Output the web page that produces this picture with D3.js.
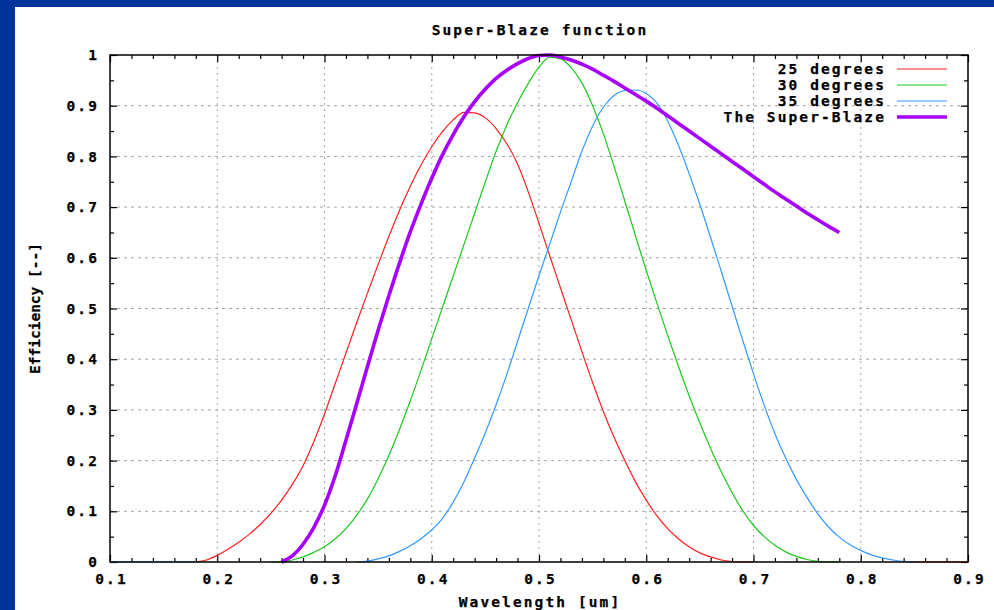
<!DOCTYPE html>
<html>
<head>
<meta charset="utf-8">
<script src="https://cdn.jsdelivr.net/npm/d3@7"></script>
<style>
  html, body { margin: 0; padding: 0; background: #003399; }
  svg { display: block; }
</style>
</head>
<body>
<div id="chart"></div>
<script>
// =========================================================
//  Super-Blaze function — three blaze curves + envelope
// =========================================================

// shared wavelength grid [um]
const wavelength = [
  0.10, 0.11, 0.12, 0.13, 0.14, 0.15, 0.16, 0.17, 0.18, 0.19,
  0.20, 0.21, 0.22, 0.23, 0.24, 0.25, 0.26, 0.27, 0.28, 0.29,
  0.30, 0.31, 0.32, 0.33, 0.34, 0.35, 0.36, 0.37, 0.38, 0.39,
  0.40, 0.41, 0.42, 0.43, 0.44, 0.45, 0.46, 0.47, 0.48, 0.49,
  0.50, 0.51, 0.52, 0.53, 0.54, 0.55, 0.56, 0.57, 0.58, 0.59,
  0.60, 0.61, 0.62, 0.63, 0.64, 0.65, 0.66, 0.67, 0.68, 0.69,
  0.70, 0.71, 0.72, 0.73, 0.74, 0.75, 0.76, 0.77, 0.78, 0.79,
  0.80, 0.81, 0.82, 0.83, 0.84, 0.85, 0.86, 0.87, 0.88, 0.89,
  0.90
];

// efficiency per series, null = not drawn
const deg25 = [
  null, null, null, null, null, null, null, null, 0, 0.004,
  0.013, 0.025, 0.039, 0.055, 0.074, 0.096, 0.122, 0.153, 0.190, 0.237,
  0.292, 0.352, 0.412, 0.472, 0.530, 0.587, 0.642, 0.694, 0.741, 0.783,
  0.819, 0.849, 0.872, 0.887, 0.886, 0.876, 0.855, 0.825, 0.785, 0.730,
  0.668, 0.604, 0.541, 0.478, 0.415, 0.354, 0.297, 0.246, 0.200, 0.158,
  0.122, 0.091, 0.066, 0.046, 0.030, 0.018, 0.010, 0.004, 0.001, 0,
  0, null, null, null, null, null, null, null, null, null,
  null, null, null, null, null, 0, 0, 0, 0, 0,
  0
];
const deg30 = [
  null, null, null, null, null, null, null, null, null, null,
  null, null, null, null, null, 0, 0, 0.004, 0.010, 0.019,
  0.030, 0.046, 0.066, 0.092, 0.124, 0.164, 0.210, 0.262, 0.318, 0.378,
  0.440, 0.502, 0.564, 0.626, 0.688, 0.750, 0.810, 0.862, 0.906, 0.944,
  0.976, 0.996, 0.993, 0.975, 0.945, 0.900, 0.845, 0.780, 0.712, 0.643,
  0.575, 0.510, 0.447, 0.386, 0.328, 0.274, 0.224, 0.178, 0.137, 0.101,
  0.072, 0.050, 0.033, 0.020, 0.011, 0.005, 0.0015, 0, 0, null,
  null, null, null, null, null, null, null, null, null, null,
  null
];
const deg35 = [
  0, 0, 0, 0, 0, 0, 0, 0, 0, null,
  null, null, null, null, null, null, null, null, null, null,
  null, null, null, 0, 0.002, 0.006, 0.012, 0.021, 0.032, 0.046,
  0.063, 0.086, 0.118, 0.158, 0.205, 0.255, 0.310, 0.370, 0.435, 0.500,
  0.565, 0.627, 0.690, 0.750, 0.810, 0.860, 0.897, 0.920, 0.930, 0.931,
  0.924, 0.905, 0.870, 0.822, 0.766, 0.705, 0.640, 0.573, 0.505, 0.437,
  0.371, 0.309, 0.253, 0.205, 0.163, 0.127, 0.095, 0.069, 0.049, 0.034,
  0.023, 0.014, 0.008, 0.004, 0.001, 0, null, null, null, null,
  null
];
const superBlaze = [
  null, null, null, null, null, null, null, null, null, null,
  null, null, null, null, null, null, 0, 0.012, 0.035, 0.068,
  0.112, 0.170, 0.240, 0.312, 0.385, 0.457, 0.525, 0.590, 0.651, 0.706,
  0.757, 0.803, 0.843, 0.878, 0.908, 0.933, 0.954, 0.970, 0.983, 0.993,
  0.999, 1.000, 0.996, 0.990, 0.982, 0.972, 0.960, 0.948, 0.935, 0.922,
  0.909, 0.895, 0.880, 0.865, 0.850, 0.835, 0.820, 0.805, 0.790, 0.775,
  0.760, 0.745, 0.730, 0.716, 0.702, 0.688, 0.675, 0.662, 0.650, null,
  null, null, null, null, null, null, null, null, null, null,
  null
];

const seriesNames = ['25 degrees', '30 degrees', '35 degrees', 'The Super-Blaze'];
const seriesValues = [deg25, deg30, deg35, superBlaze];
const seriesColors = ['#ff2020', '#1ec81e', '#3399ff', '#a800ff'];
const seriesWidths = [1.2, 1.2, 1.2, 3.6];

const xTicks = [0.1, 0.2, 0.3, 0.4, 0.5, 0.6, 0.7, 0.8, 0.9];
const xMinor = [0.12, 0.14, 0.16, 0.18, 0.22, 0.24, 0.26, 0.28, 0.32, 0.34, 0.36, 0.38,
  0.42, 0.44, 0.46, 0.48, 0.52, 0.54, 0.56, 0.58, 0.62, 0.64, 0.66, 0.68,
  0.72, 0.74, 0.76, 0.78, 0.82, 0.84, 0.86, 0.88];
const yTicks = [0, 0.1, 0.2, 0.3, 0.4, 0.5, 0.6, 0.7, 0.8, 0.9, 1];
const yMinor = [0.05, 0.15, 0.25, 0.35, 0.45, 0.55, 0.65, 0.75, 0.85, 0.95];

const W = 994, H = 610;
const m = { l: 110, r: 26, t: 55, b: 48 };
const FONT = 'DejaVu Sans Mono, Liberation Mono, monospace';
const FS = 14.5;
const GRID = '#a4a4a4';

// bold mono text, wide like the gnuplot bitmap font
const monoText = (sel, spacing) => sel
  .attr('font-family', FONT).attr('font-size', FS).attr('font-weight', 'bold')
  .attr('letter-spacing', spacing)
  .attr('fill', '#000').attr('stroke', '#000').attr('stroke-width', 0.25);

const svg = d3.select('#chart').append('svg')
  .attr('width', W).attr('height', H);

// slide frame
svg.append('rect').attr('width', W).attr('height', H).attr('fill', '#003399');
svg.append('rect').attr('x', 15).attr('y', 7)
  .attr('width', W - 15).attr('height', H - 7).attr('fill', 'white');

const x = d3.scaleLinear().domain([0.1, 0.9]).range([m.l, W - m.r]);
const y = d3.scaleLinear().domain([0, 1]).range([H - m.b, m.t]);

// grid
svg.append('g').selectAll('line')
  .data(xTicks.slice(1, -1)).join('line')
  .attr('x1', d => x(d)).attr('x2', d => x(d))
  .attr('y1', y(1)).attr('y2', y(0))
  .attr('stroke', GRID).attr('stroke-dasharray', '2 4');
svg.append('g').selectAll('line')
  .data(yTicks.slice(1, -1)).join('line')
  .attr('x1', x(0.1)).attr('x2', x(0.9))
  .attr('y1', d => y(d)).attr('y2', d => y(d))
  .attr('stroke', GRID).attr('stroke-dasharray', '3 4');

// inward ticks on all four sides
const tickStyle = g => g.call(s => s.select('.domain').remove())
  .selectAll('line').attr('stroke', '#000').attr('stroke-width', 1.2);

svg.append('g').attr('transform', `translate(0,${y(0)})`)
  .call(d3.axisBottom(x).tickValues(xMinor).tickSize(-4).tickFormat(''))
  .call(tickStyle);
svg.append('g').attr('transform', `translate(0,${y(1)})`)
  .call(d3.axisTop(x).tickValues(xMinor).tickSize(-4).tickFormat(''))
  .call(tickStyle);
svg.append('g').attr('transform', `translate(0,${y(1)})`)
  .call(d3.axisTop(x).tickValues(xTicks).tickSize(-7).tickFormat(''))
  .call(tickStyle);
svg.append('g').attr('transform', `translate(${x(0.1)},0)`)
  .call(d3.axisLeft(y).tickValues(yMinor).tickSize(-4).tickFormat(''))
  .call(tickStyle);
svg.append('g').attr('transform', `translate(${x(0.9)},0)`)
  .call(d3.axisRight(y).tickValues(yMinor).tickSize(-4).tickFormat(''))
  .call(tickStyle);
svg.append('g').attr('transform', `translate(${x(0.9)},0)`)
  .call(d3.axisRight(y).tickValues(yTicks).tickSize(-7).tickFormat(''))
  .call(tickStyle);

// labelled axes
svg.append('g').attr('transform', `translate(0,${y(0)})`)
  .call(d3.axisBottom(x).tickValues(xTicks).tickSize(-7).tickPadding(12)
    .tickFormat(d3.format('.1f')))
  .call(tickStyle)
  .call(g => g.selectAll('text').call(monoText, 2.1).attr('dx', 1));
svg.append('g').attr('transform', `translate(${x(0.1)},0)`)
  .call(d3.axisLeft(y).tickValues(yTicks).tickSize(-7).tickPadding(11)
    .tickFormat(d => d === 0 || d === 1 ? d3.format('d')(d) : d3.format('.1f')(d)))
  .call(tickStyle)
  .call(g => g.selectAll('text').call(monoText, 2.1));

// curves
const line = vals => d3.line()
  .defined((d, i) => vals[i] !== null)
  .x((d, i) => x(wavelength[i]))
  .y((d, i) => y(vals[i]))
  .curve(d3.curveMonotoneX);

seriesValues.forEach((vals, k) => {
  svg.append('path').datum(vals)
    .attr('fill', 'none')
    .attr('stroke', seriesColors[k])
    .attr('stroke-width', seriesWidths[k])
    .attr('stroke-linejoin', 'round')
    .attr('d', line(vals));
});

// border
svg.append('rect')
  .attr('x', x(0.1)).attr('y', y(1))
  .attr('width', x(0.9) - x(0.1)).attr('height', y(0) - y(1))
  .attr('fill', 'none').attr('stroke', '#000').attr('stroke-width', 1.5);

// legend (top right, inside)
const lg = svg.append('g');
seriesNames.forEach((name, k) => {
  const ly = 69 + k * 16;
  lg.append('text')
    .attr('x', 886).attr('y', ly + 5)
    .attr('text-anchor', 'end')
    .call(monoText, 2.1)
    .text(name);
  lg.append('line')
    .attr('x1', 897).attr('x2', 947)
    .attr('y1', ly).attr('y2', ly)
    .attr('stroke', seriesColors[k]).attr('stroke-width', seriesWidths[k]);
});

// title and axis labels
const midX = (x(0.1) + x(0.9)) / 2 + 1;
svg.append('text')
  .attr('x', midX).attr('y', 35)
  .attr('text-anchor', 'middle')
  .call(monoText, 2.1)
  .text('Super-Blaze function');
svg.append('text')
  .attr('x', midX).attr('y', 607)
  .attr('text-anchor', 'middle')
  .call(monoText, 2.1)
  .text('Wavelength [um]');
svg.append('text')
  .attr('transform', `translate(40,${(y(0) + y(1)) / 2}) rotate(-90)`)
  .attr('text-anchor', 'middle')
  .call(monoText, 0)
  .text('Efficiency [--]');
</script>
</body>
</html>
